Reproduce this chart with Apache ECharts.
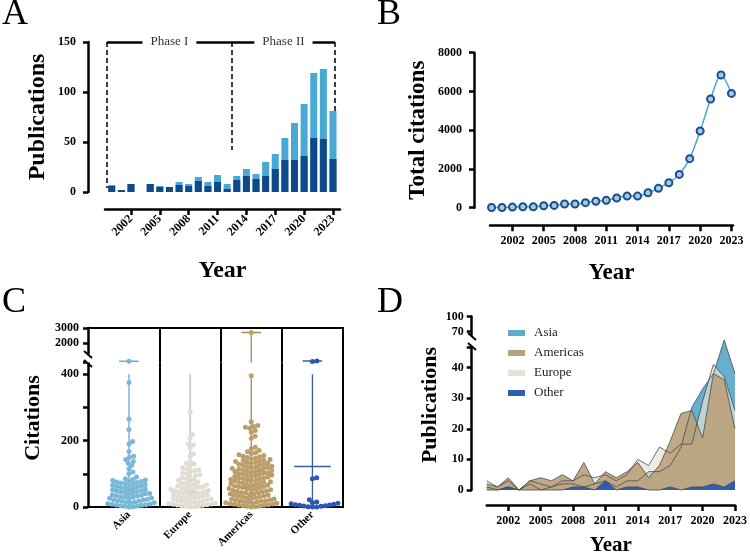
<!DOCTYPE html>
<html>
<head>
<meta charset="utf-8">
<script src="https://cdn.jsdelivr.net/npm/echarts@6/dist/echarts.min.js"></script>
<style>
  html, body { margin: 0; padding: 0; background: #fff; }
  #chart { width: 750px; height: 557px; }
</style>
</head>
<body>
<div id="chart"></div>
<script>
const FONT = 'Liberation Serif';

// shared years
const years = [2000, 2001, 2002, 2003, 2004, 2005, 2006, 2007, 2008, 2009, 2010, 2011,
  2012, 2013, 2014, 2015, 2016, 2017, 2018, 2019, 2020, 2021, 2022, 2023];
const tickYears = [2002, 2005, 2008, 2011, 2014, 2017, 2020, 2023];

// A: publications per year (dark part + light part)
const pubsDark = [6, 2, 8, 0, 8, 5, 5, 7, 6, 11, 6, 10, 3, 12, 16, 13, 16, 23, 32, 32, 36, 54, 53, 33];
const pubsLight = [1, 0, 0, 0, 0, 1, 0, 3, 2, 4, 4, 7, 5, 4, 7, 5, 14, 15, 22, 37, 52, 65, 70, 48];
const phaseBounds = [1999.5, 2012.5, 2023.2];
const phaseDashEnds = [4, 42, 81];
const phaseNames = ['Phase I', 'Phase II'];

// B: total citations
const totalCitations = [10, 10, 30, 50, 50, 100, 120, 190, 190, 260, 330, 380, 500, 600, 600,
  770, 1000, 1290, 1720, 2530, 3960, 5610, 6850, 5900];

// C: citations per paper by region
const regions = ['Asia', 'Europe', 'Americas', 'Other'];
const asiaCitations = [790, 375, 265, 233, 197, 190, 167, 153, 150, 143, 137, 132, 125, 115, 105, 100, 90,
  85, 83, 81, 80, 78, 77, 75, 74, 72, 71, 69, 68, 66, 65, 63, 62, 60, 59, 57, 56, 54, 53, 51, 50, 48,
  47, 45, 44, 43, 41, 40, 38, 37, 35, 34, 33, 31, 30, 29, 27, 26, 25, 23, 22, 21, 19, 18, 17, 15, 14,
  13, 12, 10, 9, 8, 7, 6, 5, 4, 3, 2, 1, 0];
const europeCitations = [285, 218, 207, 190, 187, 178, 160, 152,
  138, 132, 130, 125, 118, 115, 112, 110, 107, 103, 100, 97, 95, 92, 88, 85, 83, 80, 78, 75, 72,
  70, 68, 66, 65, 63, 61, 60, 58, 56, 55, 53, 52, 50, 49, 47, 46, 44, 43, 41, 40, 38, 37, 35, 34, 33,
  31, 30, 28, 27, 26, 24, 23, 22, 20, 19, 18, 16, 15, 14, 13, 11, 10, 9, 8, 7, 6, 5, 4, 3, 2, 1, 0];
const americasCitations = [2700, 395, 257, 245, 242, 240, 237, 230, 225, 213, 207, 180,
  175, 170, 166, 163, 160, 157, 155, 153, 151, 149, 147, 145, 143, 141, 140, 138, 137, 135, 134, 132,
  131, 129, 128, 126, 125, 123, 122, 120, 119, 118, 116, 115, 114, 112, 111, 110, 108, 107, 106, 104,
  103, 102, 100, 99, 98, 96, 95, 94, 92, 91, 90, 88, 87, 86, 84, 83, 82, 80, 79, 78, 76, 75, 74, 72,
  71, 70, 68, 67, 66, 64, 63, 62, 60, 59, 58, 56, 55, 54, 52, 51, 50, 48, 47, 46, 44, 43, 42, 40, 39,
  38, 36, 35, 34, 32, 31, 30, 28, 27, 26, 24, 23, 22, 20, 19, 18, 17, 16, 15, 14, 13, 12, 11, 10, 9,
  8, 7, 6, 5, 4, 3, 2, 1, 0];
const otherCitations = [800, 760, 88, 85, 22, 15, 13, 11, 10, 8, 7, 6, 5, 4, 3, 2, 1, 0, 0];
const rangeMax = [790, 400, 2700, 800];
const meanCitations = [48, 45, 62, 122];

// D: publications per year by region
const asiaPubs = [1, 0, 1, 0, 2, 0, 1, 2, 2, 1, 2, 3, 1, 3, 3, 6, 6, 8, 14, 27, 33, 38, 49, 38];
const europePubs = [3, 1, 3, 0, 3, 2, 1, 3, 3, 5, 4, 5, 3, 5, 10, 8, 14, 12, 15, 15, 29, 41, 37, 26];
const americasPubs = [2, 1, 4, 0, 3, 4, 3, 5, 3, 9, 2, 6, 4, 6, 9, 4, 8, 16, 25, 26, 17, 38, 36, 20];
const otherPubs = [0, 0, 1, 0, 0, 0, 0, 0, 1, 1, 0, 3, 0, 1, 1, 0, 0, 1, 0, 1, 1, 2, 1, 3];

const dotColors = ['#79b9d5', '#e2ddd2', '#bb9e6c', '#2c56b3'];
const whiskerColors = ['#6aaed0', '#b5b5b5', '#a88a58', '#3b5d9c'];
const areaColors = { Asia: '#5fabcb', Americas: '#bba27c', Europe: '#e6e2d9', Other: '#2d5db5' };

const chart = echarts.init(document.getElementById('chart'), null, { renderer: 'canvas' });

function axisLine() { return { show: true, onZero: false, lineStyle: { color: '#000', width: 2.5 } }; }
function axisTick(extra) { return Object.assign({ show: true, length: 5, lineStyle: { color: '#000', width: 2.5 } }, extra || {}); }
function tickLabel(extra) {
  return Object.assign({ color: '#000', fontFamily: FONT, fontWeight: 'bold', fontSize: 12,
    formatter: v => String(v) }, extra || {});
}
function nameStyle(size) { return { color: '#000', fontFamily: FONT, fontWeight: 'bold', fontSize: size }; }

// C layout constants
const C_LEFT = 88, C_WIDTH = 255, C_XMIN = -0.17, C_XMAX = 4;
const C_UP_MIN = 700, C_UP_MAX = 3000, C_UP_TOP = 328, C_UP_H = 34.5;
const C_LOW_MAX = 435, C_LOW_TOP = 362.5, C_LOW_H = 144.5;
const cUnitPx = C_WIDTH / (C_XMAX - C_XMIN);

// simple beeswarm: offsets (px) so dots do not overlap
function swarm(vals, pxPerUnit, d) {
  const order = vals.map((v, i) => i).sort((a, b) => vals[a] - vals[b]);
  const placed = [];
  const off = new Array(vals.length);
  order.forEach(i => {
    const y = vals[i] * pxPerUnit;
    const near = placed.filter(p => Math.abs(p.y - y) < d);
    const cands = [0];
    near.forEach(p => {
      const dx = Math.sqrt(d * d - (p.y - y) * (p.y - y));
      cands.push(p.x + dx, p.x - dx);
    });
    cands.sort((a, b) => Math.abs(a) - Math.abs(b));
    const x = cands.find(c => near.every(p => (p.x - c) * (p.x - c) + (p.y - y) * (p.y - y) >= d * d - 1e-6));
    placed.push({ x: x, y: y });
    off[i] = x;
  });
  return off;
}

function segment(xi, yi, pts, color, width, z) {
  return { type: 'line', xAxisIndex: xi, yAxisIndex: yi, data: pts, symbol: 'none', silent: true,
    lineStyle: { color: color, width: width }, z: z };
}

const series = [];

// ---- A (light bar shows the total, dark bar drawn over it)
series.push({
  type: 'bar', name: 'total', xAxisIndex: 0, yAxisIndex: 0, barWidth: 7, barGap: '-100%', z: 2,
  itemStyle: { color: '#47a9d4' }, data: years.map((y, i) => [y, pubsDark[i] + pubsLight[i]]),
  markLine: {
    silent: true, symbol: ['none', 'none'], label: { show: false },
    data: phaseBounds.map((b, i) => [
      { coord: [b, 150], lineStyle: { type: [5, 3], width: 1.5, color: '#000' } },
      { coord: [b, phaseDashEnds[i]] }
    ]).concat(phaseNames.map((n, i) => [
      { coord: [phaseBounds[i], 150], lineStyle: { type: 'solid', width: 2.5, color: '#000' } },
      { coord: [phaseBounds[i + 1], 150] }
    ]))
  },
  markPoint: {
    silent: true, symbol: 'rect', symbolSize: 0, z: 10,
    label: { show: true, position: 'inside', color: '#333', fontFamily: FONT, fontSize: 13,
      backgroundColor: '#fff', padding: [2, 8] },
    data: phaseNames.map((n, i) => ({ coord: [(phaseBounds[i] + phaseBounds[i + 1]) / 2, 150], value: n,
      label: { formatter: n } }))
  }
});
series.push({
  type: 'bar', name: 'dark', xAxisIndex: 0, yAxisIndex: 0, barWidth: 7, barGap: '-100%', z: 3,
  itemStyle: { color: '#0e4a8b' }, data: years.map((y, i) => [y, pubsDark[i]])
});

// ---- B
series.push({
  type: 'line', xAxisIndex: 1, yAxisIndex: 1, smooth: 0.3, symbol: 'circle', symbolSize: 7,
  lineStyle: { color: '#4aa7d7', width: 1.5 },
  itemStyle: { color: '#9fcde6', borderColor: '#1d4e8a', borderWidth: 2 },
  data: years.map((y, i) => [y, totalCitations[i]])
});

// ---- C
const cAll = [asiaCitations, europeCitations, americasCitations, otherCitations];
cAll.forEach((vals, k) => {
  const low = vals.filter(v => v <= C_LOW_MAX);
  const up = vals.filter(v => v > C_LOW_MAX);
  const offLow = swarm(low, C_LOW_H / C_LOW_MAX, 4.3);
  const offUp = swarm(up, C_UP_H / (C_UP_MAX - C_UP_MIN), 4.5);
  const cx = k + 0.5;
  series.push(segment(3, 4, [[cx, 0], [cx, Math.min(rangeMax[k], 400)]], whiskerColors[k], 1.3, 2));
  series.push(segment(3, 4, [[cx - 0.3, meanCitations[k]], [cx + 0.3, meanCitations[k]]], whiskerColors[k], 1.5, 2));
  if (rangeMax[k] > C_LOW_MAX) {
    series.push(segment(2, 2, [[cx, C_UP_MIN], [cx, rangeMax[k]]], whiskerColors[k], 1.3, 2));
    series.push(segment(2, 2, [[cx - 0.16, rangeMax[k]], [cx + 0.16, rangeMax[k]]], whiskerColors[k], 1.5, 2));
  }
  series.push({ type: 'scatter', xAxisIndex: 3, yAxisIndex: 4, symbolSize: 5, z: 3,
    itemStyle: { color: dotColors[k], opacity: 1 },
    data: low.map((v, i) => [cx + offLow[i] / cUnitPx, v]) });
  series.push({ type: 'scatter', xAxisIndex: 2, yAxisIndex: 2, symbolSize: 5, z: 3,
    itemStyle: { color: dotColors[k], opacity: 1 },
    data: up.map((v, i) => [cx + offUp[i] / cUnitPx, v]) });
});
[[2, 2], [3, 4]].forEach(ax => {
  series.push({ type: 'line', xAxisIndex: ax[0], yAxisIndex: ax[1], data: [], silent: true,
    markLine: { silent: true, symbol: ['none', 'none'], label: { show: false },
      lineStyle: { color: '#000', width: 2, type: 'solid' },
      data: [{ xAxis: 1 }, { xAxis: 2 }, { xAxis: 3 }] } });
});

// ---- D (drawn back to front)
[['Asia', asiaPubs, 0.95], ['Europe', europePubs, 0.7], ['Americas', americasPubs, 0.92], ['Other', otherPubs, 1]]
  .forEach(s => {
    series.push({
      type: 'line', name: s[0], xAxisIndex: 5, yAxisIndex: 7, symbol: 'none', clip: false,
      lineStyle: { color: '#4a4a4a', width: 0.8 },
      itemStyle: { color: areaColors[s[0]] },
      areaStyle: { color: areaColors[s[0]], opacity: s[2] },
      data: years.map((y, i) => [y, s[1][i]])
    });
  });

const option = {
  animation: false,
  backgroundColor: '#fff',
  grid: [
    { left: 105, top: 42, width: 235, height: 150 },
    { left: 490, top: 52.7, width: 243, height: 155 },
    { left: C_LEFT, top: C_UP_TOP, width: C_WIDTH, height: C_UP_H },
    { left: C_LEFT, top: C_LOW_TOP, width: C_WIDTH, height: C_LOW_H },
    { left: 486.7, top: 316.5, width: 251.6, height: 18.5 },
    { left: 486.7, top: 347, width: 251.6, height: 148 }
  ],
  xAxis: [
    { gridIndex: 0, type: 'value', min: 1999.3, max: 2023.73, offset: 17, axisLine: axisLine(),
      axisTick: axisTick({ customValues: tickYears, length: 6 }),
      axisLabel: tickLabel({ customValues: tickYears, rotate: 45, margin: 8 }), splitLine: { show: false },
      name: 'Year', nameLocation: 'middle', nameGap: 50, nameTextStyle: nameStyle(24) },
    { gridIndex: 1, type: 'value', min: 1999.85, max: 2023.15, offset: 17.5, axisLine: axisLine(),
      axisTick: axisTick({ customValues: tickYears, length: 6 }),
      axisLabel: tickLabel({ customValues: tickYears, margin: 10 }), splitLine: { show: false },
      name: 'Year', nameLocation: 'middle', nameGap: 36, nameTextStyle: nameStyle(23) },
    { gridIndex: 2, type: 'value', position: 'top', min: C_XMIN, max: C_XMAX,
      axisLine: { show: true, onZero: false, lineStyle: { color: '#000', width: 2 } },
      axisTick: { show: false }, axisLabel: { show: false }, splitLine: { show: false } },
    { gridIndex: 3, type: 'value', position: 'bottom', min: C_XMIN, max: C_XMAX,
      axisLine: { show: true, onZero: false, lineStyle: { color: '#000', width: 2 } },
      axisTick: { show: false },
      axisLabel: tickLabel({ customValues: [0.5, 1.5, 2.5, 3.5], rotate: 45, fontSize: 11, margin: 6,
        formatter: v => regions[Math.floor(v)] }),
      splitLine: { show: false } },
    { gridIndex: 4, type: 'value', min: 2000, max: 2023, show: false },
    { gridIndex: 5, type: 'value', min: 2000, max: 2023, offset: 15, axisLine: axisLine(),
      axisTick: axisTick({ customValues: tickYears, length: 6 }),
      axisLabel: tickLabel({ customValues: tickYears, margin: 10 }), splitLine: { show: false },
      name: 'Year', nameLocation: 'middle', nameGap: 30, nameTextStyle: nameStyle(21) }
  ],
  yAxis: [
    { gridIndex: 0, type: 'value', min: 0, max: 150, interval: 50, offset: 17, axisLine: axisLine(),
      axisTick: axisTick(), axisLabel: tickLabel({ margin: 12 }), splitLine: { show: false },
      name: 'Publications', nameLocation: 'middle', nameGap: 38, nameTextStyle: nameStyle(24) },
    { gridIndex: 1, type: 'value', min: 0, max: 8000, interval: 2000, offset: 16, axisLine: axisLine(),
      axisTick: axisTick(), axisLabel: tickLabel({ margin: 12 }), splitLine: { show: false },
      name: 'Total citations', nameLocation: 'middle', nameGap: 44, nameTextStyle: nameStyle(23) },
    { gridIndex: 2, type: 'value', min: C_UP_MIN, max: C_UP_MAX, axisLine: axisLine(),
      axisTick: axisTick({ customValues: [2000, 3000] }),
      axisLabel: tickLabel({ customValues: [2000, 3000], margin: 9 }), splitLine: { show: false } },
    { gridIndex: 2, type: 'value', position: 'right', min: C_UP_MIN, max: C_UP_MAX,
      axisLine: { show: true, onZero: false, lineStyle: { color: '#000', width: 2 } },
      axisTick: { show: false }, axisLabel: { show: false }, splitLine: { show: false } },
    { gridIndex: 3, type: 'value', min: 0, max: C_LOW_MAX, interval: 100, axisLine: axisLine(),
      axisTick: axisTick(), axisLabel: tickLabel({ margin: 9, formatter: v => (v % 200 === 0 ? String(v) : '') }),
      splitLine: { show: false } },
    { gridIndex: 3, type: 'value', position: 'right', min: 0, max: C_LOW_MAX,
      axisLine: { show: true, onZero: false, lineStyle: { color: '#000', width: 2 } },
      axisTick: { show: false }, axisLabel: { show: false }, splitLine: { show: false } },
    { gridIndex: 4, type: 'value', min: 63, max: 100, offset: 15, axisLine: axisLine(),
      axisTick: axisTick({ customValues: [70, 100] }),
      axisLabel: tickLabel({ customValues: [70, 100], margin: 8 }), splitLine: { show: false } },
    { gridIndex: 5, type: 'value', min: 0, max: 46.7, interval: 10, offset: 15, axisLine: axisLine(),
      axisTick: axisTick(), axisLabel: tickLabel({ margin: 8, formatter: v => (v % 10 === 0 ? String(v) : '') }),
      splitLine: { show: false } }
  ],
  legend: {
    orient: 'vertical', left: 503, top: 321, icon: 'rect', itemWidth: 17, itemHeight: 6, itemGap: 6,
    textStyle: { fontFamily: FONT, fontSize: 13, color: '#222', padding: [0, 0, 0, 4], lineHeight: 14 },
    itemStyle: { borderWidth: 0 },
    data: ['Asia', 'Americas', 'Europe', 'Other'].map(n => ({ name: n, itemStyle: { color: areaColors[n] } }))
  },
  graphic: [
    { type: 'text', left: 2, top: -3, style: { text: 'A', fontFamily: FONT, fontSize: 36, fill: '#000' } },
    { type: 'text', left: 377, top: -3, style: { text: 'B', fontFamily: FONT, fontSize: 36, fill: '#000' } },
    { type: 'text', left: 2, top: 285, style: { text: 'C', fontFamily: FONT, fontSize: 36, fill: '#000' } },
    { type: 'text', left: 377, top: 285, style: { text: 'D', fontFamily: FONT, fontSize: 36, fill: '#000' } },
    { type: 'text', x: 33, y: 418, rotation: Math.PI / 2, z: 100,
      style: { text: 'Citations', fontFamily: FONT, fontWeight: 'bold', fontSize: 22, fill: '#000',
        align: 'center', verticalAlign: 'middle' } },
    { type: 'text', x: 430, y: 405, rotation: Math.PI / 2, z: 100,
      style: { text: 'Publications', fontFamily: FONT, fontWeight: 'bold', fontSize: 22, fill: '#000',
        align: 'center', verticalAlign: 'middle' } },
    // axis break marks
    { type: 'rect', z: 100, shape: { x: 85, y: 354, width: 6, height: 8.5 }, style: { fill: '#fff' } },
    { type: 'line', z: 101, shape: { x1: 84, y1: 351, x2: 92, y2: 358 }, style: { stroke: '#000', lineWidth: 2 } },
    { type: 'line', z: 101, shape: { x1: 84, y1: 360, x2: 92, y2: 367 }, style: { stroke: '#000', lineWidth: 2 } },
    { type: 'line', z: 101, shape: { x1: 468, y1: 333, x2: 476, y2: 340 }, style: { stroke: '#000', lineWidth: 2 } },
    { type: 'line', z: 101, shape: { x1: 468, y1: 343, x2: 476, y2: 350 }, style: { stroke: '#000', lineWidth: 2 } }
  ],
  series: series
};

chart.setOption(option);
</script>
</body>
</html>
